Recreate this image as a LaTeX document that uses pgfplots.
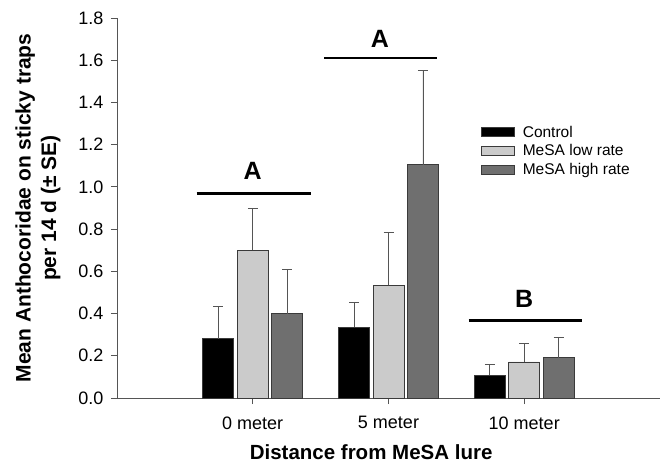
\documentclass[border=0pt]{standalone}
\usepackage{fontspec}
\setmainfont{Liberation Sans}
\usepackage{pgfplots}
\usepackage{pgfplotstable}
\pgfplotsset{compat=1.18}

\definecolor{lowc}{HTML}{CBCBCB}
\definecolor{highc}{HTML}{6F6F6F}
\definecolor{edge}{HTML}{3A3A3A}
\definecolor{axgray}{HTML}{555555}

% x = distance group (0, 5, 10 m), y = mean, e = + SE
\pgfplotstableread{
x y e
0 0.281 0.152
1 0.336 0.117
2 0.108 0.053
}\control
\pgfplotstableread{
x y e
0 0.700 0.197
1 0.534 0.249
2 0.171 0.088
}\lowrate
\pgfplotstableread{
x y e
0 0.400 0.210
1 1.105 0.447
2 0.191 0.098
}\highrate

\begin{document}
\begin{tikzpicture}
\begin{axis}[
    scale only axis,
    width=543pt, height=380pt,
    xmin=-1, xmax=3, ymin=0, ymax=1.8,
    ybar, bar width=0.228,
    clip=false,
    axis x line=bottom, axis y line=left,
    axis line style={-, draw=axgray, line width=0.9pt},
    tick style={draw=axgray, line width=0.9pt},
    tick align=outside, major tick length=6pt,
    xtick={0,1,2},
    xticklabels={0 meter, 5 meter, 10 meter},
    xticklabel style={yshift=-9pt},
    ytick={0,0.2,...,1.8},
    yticklabel style={xshift=-4pt, /pgf/number format/.cd, fixed, fixed zerofill, precision=1},
    /pgf/number format/assume math mode=true,
    ticklabel style={font=\fontsize{18}{18}\selectfont},
    xlabel={Distance from MeSA lure},
    xlabel style={font=\fontsize{20.5}{20.5}\selectfont\bfseries,
        at={(axis description cs:0.468,-0.142)}, anchor=center},
    ylabel={Mean Anthocoridae on sticky traps\\per 14 d (± SE)},
    ylabel style={align=center, font=\fontsize{21}{25.5}\selectfont\bfseries,
        at={(axis description cs:-0.1455,0.5)}, anchor=center},
    legend cell align=left,
    legend style={draw=none, fill=none, at={(axis description cs:0.670,0.722)},
        anchor=north west, font=\fontsize{15.5}{15.5}\selectfont,
        row sep=2pt, inner sep=0pt, nodes={inner xsep=2pt}},
    legend image code/.code={\draw[#1] (0pt,-4.5pt) rectangle (33pt,4.5pt);
        \path (39pt,0pt);},
    error bars/y dir=plus, error bars/y explicit,
    error bars/error bar style={draw=axgray, line width=0.9pt},
    error bars/error mark options={rotate=90, draw=axgray, line width=0.9pt, mark size=5pt},
]
\addplot[fill=black, draw=edge, line width=0.8pt, bar shift=-0.254]
    table[x=x, y=y, y error=e] {\control};
\addlegendentry{Control}
\addplot[fill=lowc, draw=edge, line width=0.8pt, bar shift=0]
    table[x=x, y=y, y error=e] {\lowrate};
\addlegendentry{MeSA low rate}
\addplot[fill=highc, draw=edge, line width=0.8pt, bar shift=0.254]
    table[x=x, y=y, y error=e] {\highrate};
\addlegendentry{MeSA high rate}

% significance groups
\draw[line width=2.6pt] (axis cs:-0.413,0.970) -- (axis cs:0.429,0.970);
\draw[line width=2.6pt] (axis cs:0.525,1.611) -- (axis cs:1.355,1.611);
\draw[line width=2.6pt] (axis cs:1.591,0.366) -- (axis cs:2.426,0.366);
\node[font=\fontsize{25}{25}\selectfont\bfseries, inner sep=0pt] at (axis cs:0,1.075) {A};
\node[font=\fontsize{25}{25}\selectfont\bfseries, inner sep=0pt] at (axis cs:0.937,1.700) {A};
\node[font=\fontsize{25}{25}\selectfont\bfseries, inner sep=0pt] at (axis cs:2,0.469) {B};
\end{axis}
\pgfresetboundingbox
\path[use as bounding box] ([shift={(-117pt,-67pt)}]current axis.south west)
    rectangle ([shift={(5pt,18pt)}]current axis.north east);
\end{tikzpicture}
\end{document}
